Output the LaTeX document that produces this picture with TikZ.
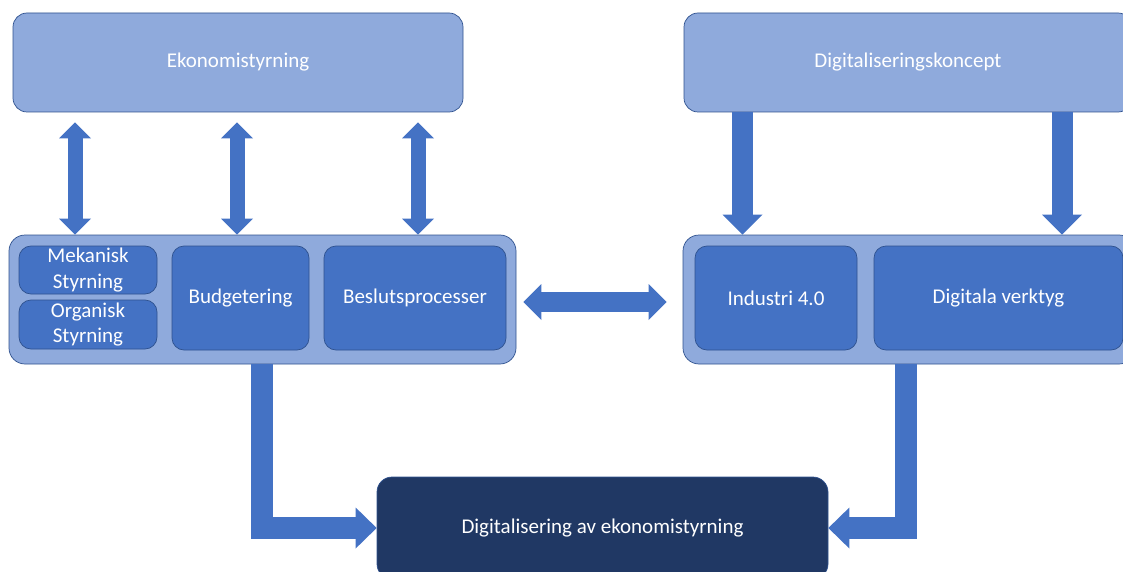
\documentclass[tikz,border=0pt]{standalone}
\usepackage{fontspec}
\setmainfont{Carlito}
\usetikzlibrary{positioning,calc,arrows.meta}

\definecolor{lightblu}{HTML}{8FAADC}
\definecolor{midblu}{HTML}{4472C4}
\definecolor{darkblu}{HTML}{203864}
\definecolor{edgeblu}{HTML}{2F528F}

\begin{document}
\begin{tikzpicture}[
    x=1pt, y=-1pt,
    box/.style={rectangle, rounded corners=14pt, draw=edgeblu, line width=0.7pt, text=white, font=\fontsize{21}{25.5}\selectfont, align=center, inner sep=0pt},
    topbox/.style={box, fill=lightblu, minimum height=99pt},
    groupbox/.style={box, fill=lightblu, minimum height=129pt, rounded corners=16pt},
    itembox/.style={box, fill=midblu, rounded corners=12pt},
    goalbox/.style={box, fill=darkblu, minimum height=102pt, rounded corners=15pt},
    dblarrow/.style={color=midblu, line width=15pt, {Triangle[width=32pt,length=16pt,line width=0pt]}-{Triangle[width=32pt,length=16pt,line width=0pt]}},
    sidearrow/.style={color=midblu, line width=20pt, {Triangle[width=36pt,length=18pt,line width=0pt]}-{Triangle[width=36pt,length=18pt,line width=0pt]}},
    downarrow/.style={color=midblu, line width=21pt, -{Triangle[width=40pt,length=20pt,line width=0pt]}},
    elbow/.style={color=midblu, line width=22pt, line join=miter, -{Triangle[width=41pt,length=21pt,line width=0pt]}}
]
\useasboundingbox (0,0) rectangle (1123,572);

% Top level concepts
\node[topbox, minimum width=450pt] (eko) at (238,62.5) {Ekonomistyrning};
\node[topbox, minimum width=448pt] (dig) at (908,62.5) {Digitaliseringskoncept};

% Left group
\node[groupbox, minimum width=507pt] (lcont) at (262.5,299.5) {};
\node[itembox, minimum width=138pt, minimum height=48pt] (mek) at (88,270) {Mekanisk\\Styrning};
\node[itembox, minimum width=138pt, minimum height=49pt] (org) at (88,324.5) {Organisk\\Styrning};
\node[itembox, minimum width=137pt, minimum height=104pt] (bud) at (240.5,298) {Budgetering};
\node[itembox, minimum width=182pt, minimum height=104pt] (bes) at (415,298) {Beslutsprocesser};

% Right group
\node[groupbox, minimum width=452pt] (rcont) at (909,299.5) {};
\node[itembox, minimum width=162pt, minimum height=104pt] (ind) at (776,298) {Industri 4.0};
\node[itembox, minimum width=249pt, minimum height=104pt] (verk) at (998.5,298) {Digitala verktyg};

% Result
\node[goalbox, minimum width=451pt] (goal) at (602.5,528) {Digitalisering av ekonomistyrning};

% Arrow columns
\coordinate (col1) at (75,0);
\coordinate (col2) at (237,0);
\coordinate (col3) at (418,0);
\coordinate (col4) at (742.5,0);
\coordinate (col5) at (1062,0);
\coordinate (lout) at (261.5,0);
\coordinate (rout) at (905.5,0);

% Ekonomistyrning <-> left group
\draw[dblarrow] ($(col1 |- eko.south)+(0,10)$) -- (col1 |- lcont.north);
\draw[dblarrow] ($(col2 |- eko.south)+(0,10)$) -- (col2 |- lcont.north);
\draw[dblarrow] ($(col3 |- eko.south)+(0,10)$) -- (col3 |- lcont.north);

% Digitaliseringskoncept -> right group
\draw[downarrow] (col4 |- dig.south) -- (col4 |- rcont.north);
\draw[downarrow] (col5 |- dig.south) -- (col5 |- rcont.north);

% Between the groups
\draw[sidearrow] ($(lcont.east)+(7,2.5)$) -- ($(rcont.west)+(-16,2.5)$);

% Down to the result
\draw[elbow] (lout |- lcont.south) |- (goal.west);
\draw[elbow] (rout |- rcont.south) |- (goal.east);

\end{tikzpicture}
\end{document}
